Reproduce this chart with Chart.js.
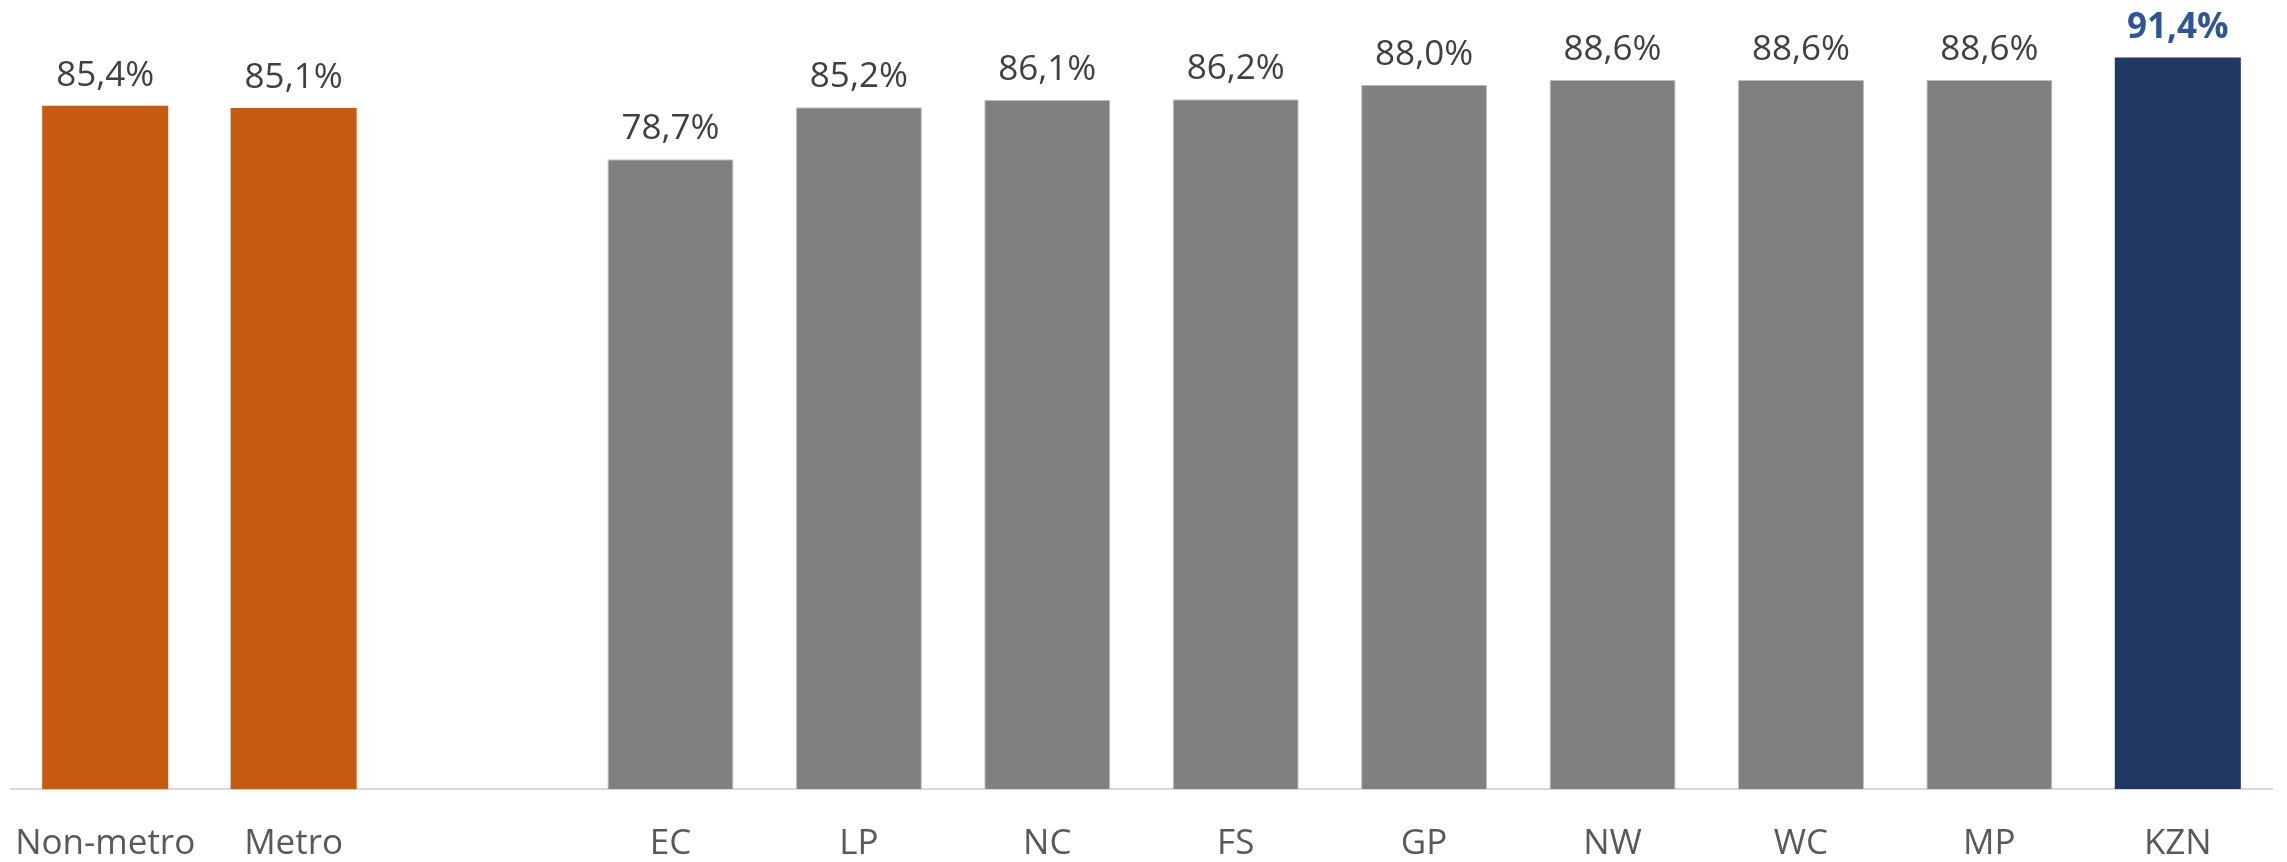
<!DOCTYPE html>
<html>
<head>
<meta charset="utf-8">
<script src="https://cdn.jsdelivr.net/npm/chart.js@4"></script>
<style>
html,body{margin:0;padding:0;background:#fff;}
#wrap{width:2287px;height:862px;position:relative;}
</style>
</head>
<body>
<div id="wrap"><canvas id="c" width="2287" height="862"></canvas></div>
<script>
const categories = ["Non-metro", "Metro", "", "EC", "LP", "NC", "FS", "GP", "NW", "WC", "MP", "KZN"];
const values = [85.4, 85.1, null, 78.7, 85.2, 86.1, 86.2, 88.0, 88.6, 88.6, 88.6, 91.4];
const barColors = ["#C55A11", "#C55A11", "#808080", "#808080", "#808080", "#808080", "#808080", "#808080", "#808080", "#808080", "#808080", "#203864"];
const labelColors = ["#404040", "#404040", "#404040", "#404040", "#404040", "#404040", "#404040", "#404040", "#404040", "#404040", "#404040", "#2F5597"];
const labelBold = [false, false, false, false, false, false, false, false, false, false, false, true];

const valueLabels = {
  id: 'valueLabels',
  afterDatasetsDraw(chart) {
    const ctx = chart.ctx;
    const meta = chart.getDatasetMeta(0);
    ctx.save();
    ctx.textAlign = 'center';
    ctx.textBaseline = 'alphabetic';
    meta.data.forEach((bar, i) => {
      const v = values[i];
      if (v === null || v === undefined) return;
      ctx.font = (labelBold[i] ? 'bold ' : '') + '35px "Open Sans"';
      ctx.fillStyle = labelColors[i];
      const txt = v.toFixed(1).replace('.', ',') + '%';
      ctx.fillText(txt, bar.x, bar.y - 20);
    });
    ctx.restore();
  }
};

new Chart(document.getElementById('c'), {
  type: 'bar',
  data: {
    labels: categories,
    datasets: [{
      data: values,
      backgroundColor: barColors,
      borderColor: barColors.map(c => c === '#808080' ? '#BFBFBF' : c),
      borderWidth: barColors.map(c => c === '#808080' ? 1 : 0),
      barPercentage: 0.669,
      categoryPercentage: 1.0
    }]
  },
  options: {
    responsive: false,
    animation: false,
    devicePixelRatio: 1,
    layout: { padding: { left: 11, right: 15, top: 0, bottom: 0 } },
    plugins: { legend: { display: false }, tooltip: { enabled: false } },
    scales: {
      y: {
        display: false,
        min: 0,
        max: 98.6
      },
      x: {
        grid: { display: false, drawTicks: true, tickLength: 34 },
        border: { display: true, color: '#D9D9D9', width: 2 },
        ticks: {
          color: '#595959',
          font: { family: '"Open Sans"', size: 35 },
          padding: 0,
          maxRotation: 0,
          autoSkip: false
        },
        afterFit(scale) { scale.height = 73; }
      }
    }
  },
  plugins: [valueLabels]
});
</script>
</body>
</html>
